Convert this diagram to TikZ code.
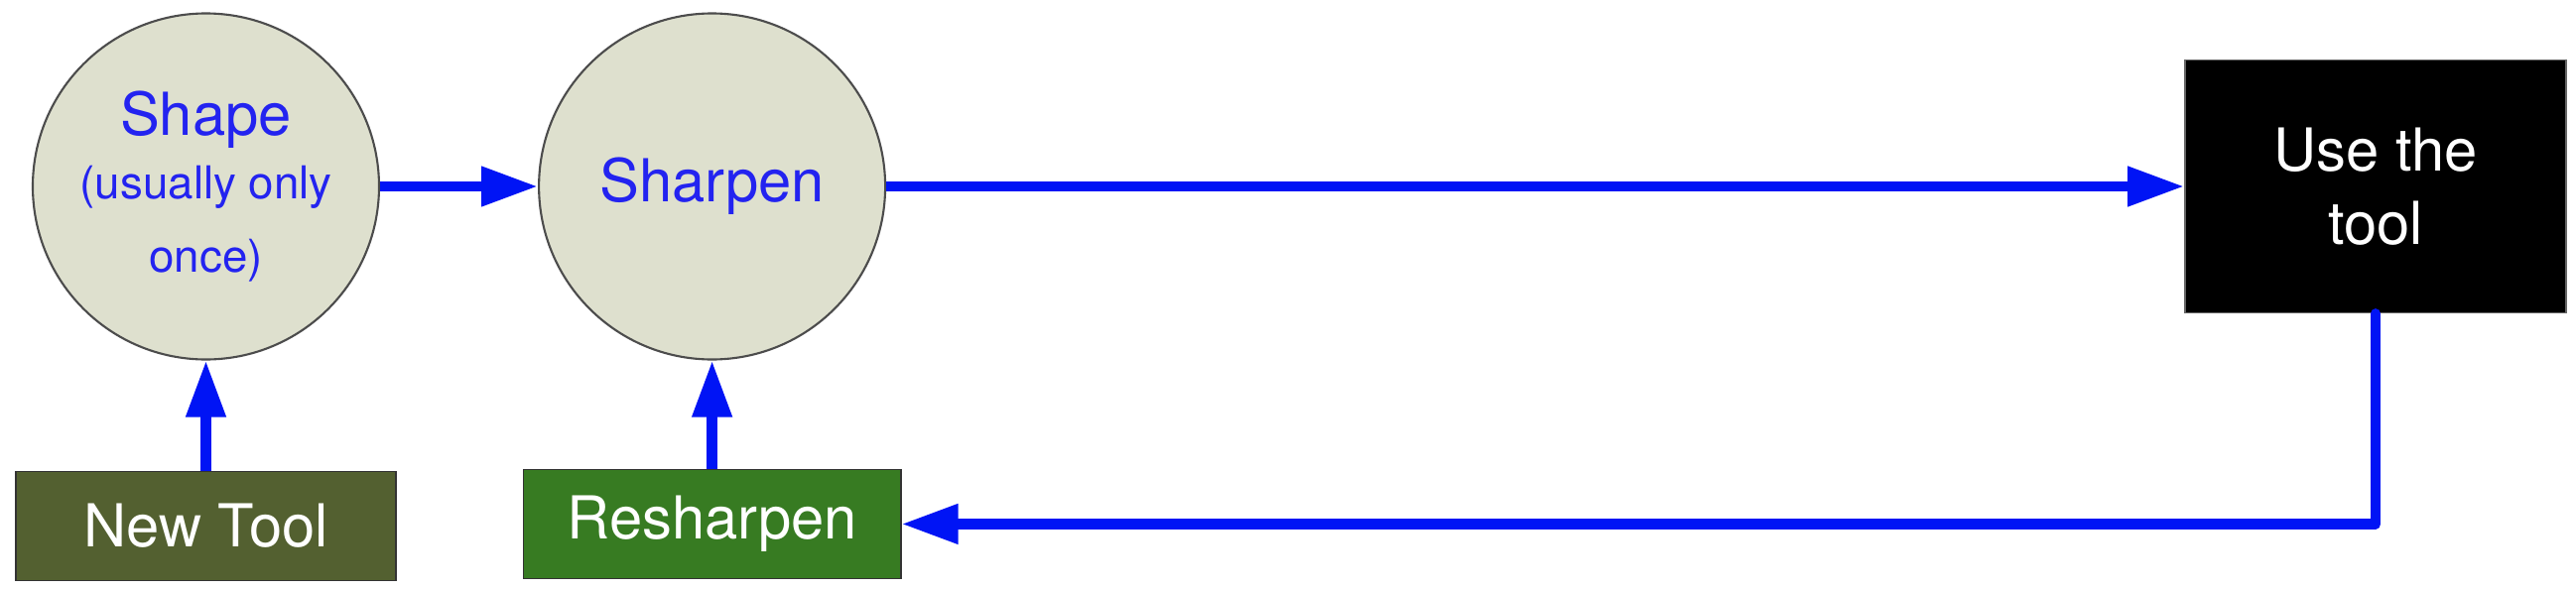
\documentclass[tikz,border=0pt]{standalone}
\usepackage{fontspec}
\setmainfont{TeX Gyre Heros}
\usepackage{xcolor}
\usepackage{tikz}
\usetikzlibrary{arrows.meta,positioning}

\definecolor{stoneFill}{RGB}{222,224,206}
\definecolor{newFill}{RGB}{83,96,48}
\definecolor{reFill}{RGB}{55,123,34}
\definecolor{flowBlue}{RGB}{0,20,245}
\definecolor{textBlue}{RGB}{35,35,240}

\begin{document}
\begin{tikzpicture}[node distance=1.1cm and 1.59cm,
  stage/.style={circle,draw=black!70,fill=stoneFill,line width=0.6pt,minimum size=3.49cm,inner sep=0pt,align=center,text=textBlue,font=\fontsize{17}{21}\selectfont},
  box/.style={draw=black!80,line width=0.5pt,minimum width=3.83cm,minimum height=1.1cm,align=center,text=white,font=\fontsize{17}{21}\selectfont},
  arr/.style={-{Triangle[length=5.7mm,width=3.8mm]},line width=3pt,flowBlue,line join=round}]
\useasboundingbox (0,0) rectangle (25.96,5.94);
\node[stage] (shape) at (2.075,4.06) {Shape\\[-3pt]{\fontsize{13}{20}\selectfont (usually only}\\{\fontsize{13}{20}\selectfont once)}};
\node[stage,right=of shape] (sharpen) {Sharpen};
\node[box,fill=black,draw=black!60,minimum width=3.84cm,minimum height=2.55cm,right=13.08cm of sharpen] (use) {Use the\\tool};
\node[box,fill=newFill,below=1.11cm of shape] (newtool) {New Tool};
\node[box,fill=reFill,minimum width=3.8cm,below=1.09cm of sharpen] (resharpen) {Resharpen};
\draw[arr] (shape) -- (sharpen);
\draw[arr] (sharpen) -- (use);
\draw[arr] (newtool) -- (shape);
\draw[arr] (resharpen) -- (sharpen);
\draw[arr,line cap=round] (use.south) |- (resharpen.east);
\end{tikzpicture}
\end{document}
